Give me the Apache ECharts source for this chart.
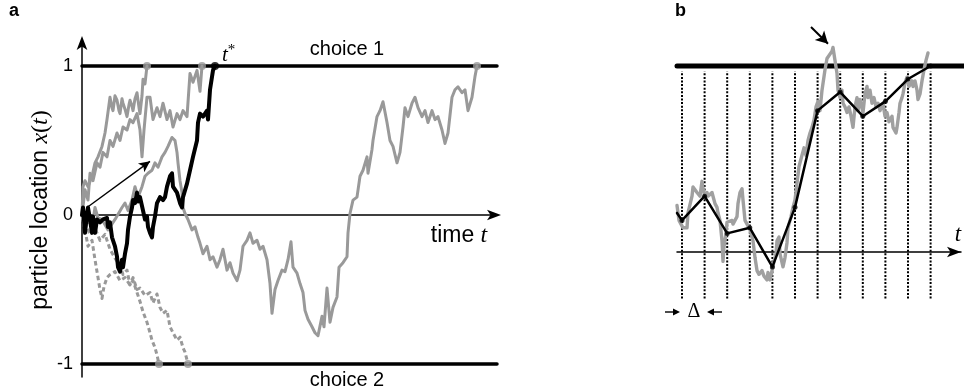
<!DOCTYPE html>
<html><head><meta charset="utf-8">
<script src="https://cdn.jsdelivr.net/npm/echarts@6/dist/echarts.min.js"></script>
<style>html,body{margin:0;padding:0;background:#fff}#c{width:966px;height:391px}</style>
</head><body><div id="c"></div>
<script>
// ---------- panel a: diffusion paths between two decision bounds ----------
// time in simulation steps, location in units of the bound
const boundA = 1;
const tEndA = 415;
const tickValuesA = [-1, 0, 1];

const blackPathA = [[0,0],[1,.05],[3,-.12],[5,.01],[6,.05],[8,-.03],[10,-.12],[11,-.01],[13,-.12],[15,-.03],[18,-.05],[21,-.03],[25,-.02],[26,-.08],[28,-.05],[30,-.15],[33,-.21],[35,-.28],[36,-.35],[38,-.38],[40,-.30],[41,-.35],[43,-.26],[45,-.19],[46,-.10],[48,-.01],[50,.05],[51,.10],[53,.08],[55,.15],[56,.09],[58,.12],[61,.03],[63,-.03],[65,-.01],[66,-.08],[68,-.12],[70,-.15],[71,-.08],[73,-.01],[75,.08],[78,.12],[81,.10],[83,.12],[85,.19],[88,.26],[90,.28],[91,.19],[93,.17],[95,.15],[98,.08],[100,.05],[101,.12],[105,.21],[108,.30],[111,.39],[115,.50],[116,.62],[118,.68],[121,.66],[125,.70],[126,.64],[128,.84],[131,.97],[133,1]];

const greyPathA1 = [[0,0],[1,.19],[3,.23],[6,.19],[10,.26],[13,.35],[16,.39],[20,.46],[23,.55],[25,.64],[28,.79],[30,.72],[31,.70],[33,.80],[35,.77],[37,.70],[38,.68],[40,.78],[41,.75],[43,.71],[45,.66],[47,.74],[48,.77],[50,.73],[51,.70],[53,.78],[55,.82],[57,.72],[58,.68],[60,.80],[61,.91],[63,.88],[65,1]];

const greyPathA2 = [[0,0],[3,.17],[6,.10],[8,.28],[11,.23],[15,.35],[18,.32],[21,.42],[25,.39],[28,.50],[31,.46],[35,.55],[38,.50],[41,.59],[45,.57],[48,.64],[51,.62],[55,.68],[58,.57],[60,.39],[62,.57],[65,.79],[68,.79],[71,.64],[75,.72],[78,.66],[81,.75],[85,.64],[88,.70],[91,.59],[95,.68],[98,.64],[101,.70],[105,.66],[108,.95],[111,.89],[115,.97],[118,.83],[120,1]];

const greyPathA3 = [[0,0],[3,-.10],[6,-.03],[10,-.08],[13,.05],[16,-.02],[20,-.03],[26,-.10],[33,-.03],[40,.05],[43,.08],[46,.03],[50,.10],[53,.19],[56,.12],[60,.19],[63,.26],[66,.28],[70,.30],[73,.35],[76,.32],[80,.39],[83,.42],[86,.46],[90,.52],[93,.50],[95,.42],[96,.35],[98,.23],[100,.15],[101,.05],[103,.01],[106,-.03],[110,-.10],[113,-.08],[116,-.15],[118,-.19],[121,-.26],[125,-.21],[128,-.30],[131,-.28],[135,-.35],[138,-.30],[141,-.23],[145,-.37],[148,-.32],[151,-.39],[155,-.44],[158,-.37],[161,-.21],[165,-.17],[168,-.12],[171,-.19],[175,-.17],[178,-.23],[181,-.21],[185,-.30],[188,-.46],[190,-.66],[193,-.50],[196,-.44],[200,-.37],[203,-.38],[206,-.30],[209,-.18],[211,-.35],[215,-.39],[218,-.46],[221,-.52],[223,-.64],[226,-.70],[230,-.75],[233,-.79],[236,-.81],[240,-.68],[242,-.75],[245,-.49],[248,-.72],[251,-.62],[255,-.55],[257,-.35],[261,-.32],[265,-.28],[266,-.12],[268,.01],[271,.10],[275,.12],[278,.26],[281,.30],[285,.39],[286,.28],[290,.44],[291,.50],[295,.66],[298,.70],[301,.76],[305,.62],[308,.50],[311,.46],[315,.35],[318,.42],[321,.59],[323,.72],[326,.66],[330,.75],[333,.79],[336,.72],[340,.66],[343,.70],[346,.62],[350,.70],[353,.64],[356,.66],[360,.57],[363,.48],[366,.55],[370,.79],[373,.84],[376,.86],[380,.82],[383,.84],[386,.70],[390,.79],[393,.93],[395,1]];

const dashedPathA1 = [[0,0],[3,-.10],[6,-.21],[10,-.17],[13,-.30],[16,-.42],[18,-.50],[20,-.56],[22,-.48],[25,-.42],[28,-.40],[33,-.38],[38,-.44],[43,-.42],[48,-.47],[51,-.44],[55,-.52],[58,-.58],[61,-.65],[65,-.72],[68,-.79],[70,-.84],[73,-.89],[75,-.94],[77,-1]];

const dashedPathA2 = [[0,0],[4,-.07],[8,-.13],[13,-.09],[18,-.17],[23,-.13],[28,-.23],[33,-.29],[38,-.34],[41,-.40],[45,-.37],[48,-.47],[51,-.42],[55,-.50],[58,-.49],[63,-.54],[68,-.52],[71,-.59],[75,-.53],[78,-.62],[81,-.66],[85,-.64],[88,-.75],[91,-.79],[95,-.84],[98,-.82],[101,-.89],[103,-.92],[106,-1]];

const greyHitsA = [[65,1],[120,1],[395,1],[77,-1],[106,-1]];
const blackHitA = [[133,1]];
const driftArrowA = [[5,.05],[68,.36]];

// ---------- panel b: one path and its samples every Δ ----------
const boundB = 1;
const tEndB = 289;
const sampleTimesB = [5,27.6,50.2,72.8,95.4,118,140.6,163.2,185.8,208.4,231,253.6];
const sampleValuesB = [.17,.30,.10,.13,-.08,.24,.76,.86,.73,.81,.93,1.0];
const sampledStartB = [0,.21];
const dotRangeB = [-0.25, 0.97];

const greyPathB = [[0,.25],[2,.17],[6,.13],[10,.13],[11,.21],[15,.30],[16,.35],[18,.36],[20,.32],[21,.33],[23,.30],[25,.38],[26,.34],[28,.30],[30,.32],[31,.30],[35,.32],[36,.30],[38,.26],[40,.24],[41,.21],[43,.17],[45,.06],[46,-.05],[47,.03],[49,.10],[50,.16],[52,.15],[55,.17],[56,.15],[58,.16],[60,.19],[61,.26],[63,.32],[65,.34],[66,.28],[68,.17],[70,.16],[73,.12],[76,.06],[78,-.03],[80,-.10],[82,-.12],[85,-.10],[87,-.13],[90,-.15],[91,-.11],[93,-.15],[95,-.10],[97,-.05],[99,-.01],[100,.06],[102,.08],[103,-.01],[106,-.08],[108,-.03],[110,.05],[111,.13],[114,.19],[116,.24],[118,.28],[120,.37],[122,.46],[125,.52],[127,.56],[129,.52],[131,.60],[133,.64],[135,.67],[137,.71],[139,.78],[141,.81],[143,.76],[145,.87],[148,.98],[150,1.04],[152,1.03],[155,1.08],[156,1.10],[158,1.03],[160,.96],[161,.87],[163,.83],[165,.87],[166,.80],[168,.78],[170,.75],[172,.78],[174,.73],[176,.67],[178,.78],[180,.83],[181,.76],[183,.82],[186,.75],[188,.85],[190,.89],[191,.83],[193,.87],[195,.80],[197,.83],[199,.78],[201,.80],[203,.76],[206,.80],[208,.73],[210,.75],[212,.70],[215,.73],[216,.67],[219,.64],[220,.67],[222,.75],[223,.80],[225,.83],[226,.85],[228,.91],[230,.94],[232,.89],[235,.92],[236,.89],[238,.92],[240,.87],[241,.82],[243,.85],[245,.92],[247,.98],[249,1.03],[251,1.07]];
const pointerArrowB = [[134,1.21],[151,1.12]];

const GREY = '#999999';
const SANS = '"Liberation Sans", Arial, Helvetica, sans-serif';
const SERIF = '"Liberation Serif", "DejaVu Serif", serif';

const chart = echarts.init(document.getElementById('c'), null, {renderer: 'canvas'});

function path(data, xi, color, width, type, z) {
  const dashed = type && type !== 'solid';
  return {type: 'line', xAxisIndex: xi, yAxisIndex: xi, data: data, symbol: 'none',
    lineStyle: {color: color, width: width, type: type || 'solid', join: 'round', cap: dashed ? 'butt' : 'round'},
    silent: true, z: z || 2, animation: false};
}

const series = [
  // bounds of panel a
  path([[0, boundA], [tEndA, boundA]], 0, '#000', 3.5, 'solid', 1),
  path([[0, -boundA], [tEndA, -boundA]], 0, '#000', 3.5, 'solid', 1),
  path(greyPathA3, 0, GREY, 3),
  path(greyPathA2, 0, GREY, 3),
  path(greyPathA1, 0, GREY, 3),
  path(dashedPathA1, 0, GREY, 3, [4.5, 3]),
  path(dashedPathA2, 0, GREY, 3, [4.5, 3]),
  path(blackPathA, 0, '#000', 4, 'solid', 3),
  {type: 'scatter', xAxisIndex: 0, yAxisIndex: 0, data: greyHitsA, symbolSize: 8,
    itemStyle: {color: GREY}, silent: true, z: 4},
  {type: 'scatter', xAxisIndex: 0, yAxisIndex: 0, data: blackHitA, symbolSize: 8,
    itemStyle: {color: '#000'}, silent: true, z: 4,
    markLine: {silent: true, symbol: ['none', 'arrow'], symbolSize: [8, 11], label: {show: false},
      lineStyle: {color: '#000', width: 1.4, type: 'solid'},
      data: [[{coord: driftArrowA[0]}, {coord: driftArrowA[1]}]]}},
];

// sampling grid of panel b
sampleTimesB.forEach(function (t) {
  series.push(path([[t, dotRangeB[0]], [t, dotRangeB[1]]], 1, '#000', 2, [2, 1.6], 1));
});
series.push(
  Object.assign(path([[0, boundB], [tEndB, boundB]], 1, '#000', 5, 'solid', 2), {clip: false}),
  path(greyPathB, 1, '#a0a0a0', 3.4, 'solid', 3),
  path([sampledStartB].concat(sampleTimesB.map(function (t, i) { return [t, sampleValuesB[i]]; })), 1, '#000', 2.5, 'solid', 4),
  {type: 'scatter', xAxisIndex: 1, yAxisIndex: 1, symbolSize: 5, itemStyle: {color: '#000'}, silent: true, z: 5,
    data: sampleTimesB.map(function (t, i) { return [t, sampleValuesB[i]]; }),
    markLine: {silent: true, symbol: ['none', 'arrow'], symbolSize: [10, 12], label: {show: false},
      lineStyle: {color: '#000', width: 2, type: 'solid'},
      data: [[{coord: pointerArrowB[0]}, {coord: pointerArrowB[1]}]]}}
);

function hArrow(x1, x2, y) {
  const dir = x2 > x1 ? 1 : -1;
  return [
    {type: 'line', shape: {x1: x1, y1: y, x2: x2 - dir * 5, y2: y}, style: {stroke: '#000', lineWidth: 1.4}},
    {type: 'polygon', shape: {points: [[x2, y], [x2 - dir * 7, y - 3.5], [x2 - dir * 7, y + 3.5]]}, style: {fill: '#000'}}
  ];
}

const option = {
  animation: false,
  backgroundColor: '#fff',
  grid: [
    {left: 82, top: 40, width: 415, height: 337},
    {left: 677, top: 19.5, width: 284, height: 316.2}
  ],
  xAxis: [
    {type: 'value', gridIndex: 0, min: 0, max: tEndA, axisLine: {onZero: true, symbol: ['none', 'arrow'], symbolSize: [8, 14], symbolOffset: [0, 4],
      lineStyle: {color: '#000', width: 1.5}}, axisTick: {show: false}, axisLabel: {show: false}, splitLine: {show: false}},
    {type: 'value', gridIndex: 1, min: 0, max: 284, axisLine: {onZero: true, symbol: ['none', 'arrow'], symbolSize: [8, 14], symbolOffset: [0, 0],
      lineStyle: {color: '#000', width: 1.5}}, axisTick: {show: false}, axisLabel: {show: false}, splitLine: {show: false}}
  ],
  yAxis: [
    {type: 'value', gridIndex: 0, min: -1.087, max: 1.174, axisLine: {show: true, onZero: false, symbol: ['none', 'arrow'], symbolSize: [8, 14], symbolOffset: [0, 4],
      lineStyle: {color: '#000', width: 1.5}}, axisTick: {show: false}, splitLine: {show: false},
      axisLabel: {customValues: tickValuesA, margin: 9, color: '#000', fontSize: 18, fontFamily: SANS,
        formatter: function (v) { return String(v); }}},
    {type: 'value', gridIndex: 1, min: -0.45, max: 1.25, show: false}
  ],
  series: series,
  graphic: [
    {type: 'text', left: 9, top: 2, style: {text: 'a', font: 'bold 18px ' + SANS, fill: '#000'}},
    {type: 'text', left: 675, top: 2, style: {text: 'b', font: 'bold 18px ' + SANS, fill: '#000'}},
    {type: 'text', x: 41, y: 210, rotation: Math.PI / 2, style: {
      text: '{s|particle location }{i|x}{p|(}{i|t}{p|)}', align: 'center', verticalAlign: 'middle',
      rich: {s: {font: '23px ' + SANS, fill: '#000'}, i: {font: 'italic 24px ' + SERIF, fill: '#000'}, p: {font: '24px ' + SERIF, fill: '#000'}}}},
    {type: 'text', x: 347, y: 49, style: {text: 'choice 1', font: '20px ' + SANS, fill: '#000', align: 'center', verticalAlign: 'middle'}},
    {type: 'text', x: 347, y: 380, style: {text: 'choice 2', font: '20px ' + SANS, fill: '#000', align: 'center', verticalAlign: 'middle'}},
    {type: 'text', x: 459, y: 236, style: {
      text: '{s|time }{i|t}', align: 'center', verticalAlign: 'middle',
      rich: {s: {font: '23px ' + SANS, fill: '#000'}, i: {font: 'italic 24px ' + SERIF, fill: '#000'}}}},
    {type: 'text', x: 222, y: 55, style: {
      text: '{i|t}{sup|*}', align: 'left', verticalAlign: 'middle',
      rich: {i: {font: 'italic 21px ' + SERIF, fill: '#000'}, sup: {font: '15px ' + SERIF, fill: '#000', verticalAlign: 'top', padding: [0, 0, 10, 0]}}}},
    {type: 'text', x: 958, y: 235, style: {text: 't', font: 'italic 23px ' + SERIF, fill: '#000', align: 'center', verticalAlign: 'middle'}},
    {type: 'text', x: 694, y: 312, style: {text: '\u0394', font: '20px ' + SERIF, fill: '#000', align: 'center', verticalAlign: 'middle'}}
  ].concat(hArrow(665, 680, 312), hArrow(722, 707, 312))
};

chart.setOption(option);
</script>
</body></html>
